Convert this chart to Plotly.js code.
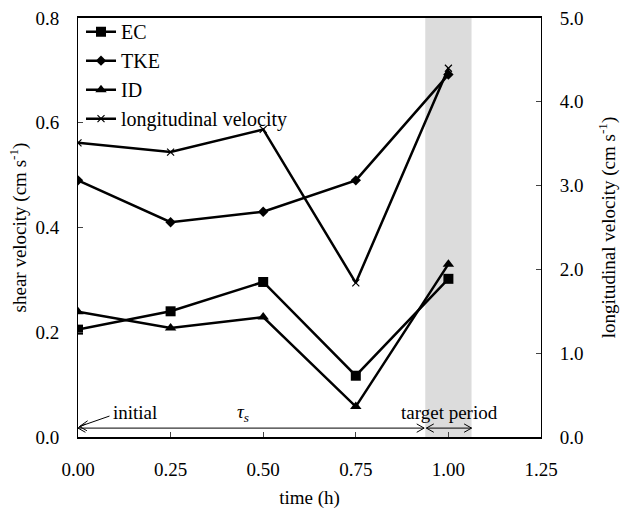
<!DOCTYPE html>
<html>
<head>
<meta charset="utf-8">
<script src="https://cdn.plot.ly/plotly-3.0.1.min.js"></script>
</head>
<body style="margin:0">
<div id="chart" style="width:630px;height:510px"></div>
<script>
var time = [0, 0.25, 0.5, 0.75, 1.0];
var ecValues = [0.205, 0.240, 0.296, 0.117, 0.302];
var tkeValues = [0.490, 0.410, 0.430, 0.490, 0.692];
var idValues = [0.239, 0.208, 0.229, 0.058, 0.330];
var longitudinalValues = [3.51, 3.40, 3.67, 1.84, 4.40];
var seriesNames = ["EC", "TKE", "ID", "longitudinal velocity"];
var xTicks = [0, 0.25, 0.5, 0.75, 1.0, 1.25];
var xTickLabels = ["0.00", "0.25", "0.50", "0.75", "1.00", "1.25"];
var targetStart = 0.9375, targetEnd = 1.0625;

var serifFamily = "Liberation Serif";
var fs = 19;
var lineStyle = {color: "#000", width: 2.5};

var traces = [
  {x: time, y: ecValues, name: seriesNames[0], mode: "lines+markers", line: lineStyle,
   marker: {symbol: "square", size: 10, color: "#000"}},
  {x: time, y: tkeValues, name: seriesNames[1], mode: "lines+markers", line: lineStyle,
   marker: {symbol: "diamond", size: 8, color: "#000"}},
  {x: time, y: idValues, name: seriesNames[2], mode: "lines+markers", line: lineStyle,
   marker: {symbol: "triangle-up", size: 10, color: "#000"}},
  {x: time, y: longitudinalValues, name: seriesNames[3], mode: "lines+markers", line: lineStyle, yaxis: "y2",
   marker: {symbol: "x-thin-open", size: 7, line: {color: "#000", width: 1.2}, color: "#000"}}
];

var arrowY = 0.017;
var hx = 0.02, hy = 0.008;
function vHead(x, y, dir) {
  var bx = x - dir * hx;
  return {type: "path", xref: "x", yref: "y",
    path: "M" + bx + "," + (y + hy) + " L" + x + "," + y + " L" + bx + "," + (y - hy),
    line: {color: "#000", width: 1}};
}

var shapes = [
  {type: "rect", xref: "x", yref: "paper", x0: targetStart, x1: targetEnd, y0: 0, y1: 1,
   fillcolor: "#dcdcdc", line: {width: 0}, layer: "below"},
  {type: "line", xref: "x", yref: "y", x0: 0, x1: targetStart - 0.003, y0: arrowY, y1: arrowY, line: {color: "#000", width: 1}},
  vHead(0, arrowY, -1), vHead(targetStart - 0.003, arrowY, 1),
  {type: "line", xref: "x", yref: "y", x0: targetStart + 0.003, x1: targetEnd, y0: arrowY, y1: arrowY, line: {color: "#000", width: 1}},
  vHead(targetStart + 0.003, arrowY, -1), vHead(targetEnd, arrowY, 1),
  {type: "line", xref: "x", yref: "y", x0: 0.085, x1: 0.004, y0: 0.040, y1: 0.020, line: {color: "#000", width: 1}},
  {type: "path", xref: "x", yref: "y", path: "M0.026,0.031 L0.004,0.020 L0.024,0.012", line: {color: "#000", width: 1}}
];

var annotations = [
  {x: 0.09, y: 0.046, xref: "x", yref: "y", text: "initial", showarrow: false, xanchor: "left",
   font: {family: serifFamily, size: fs}},
  {x: 0.445, y: 0.046, xref: "x", yref: "y", text: "<i>τ<sub>s</sub></i>", showarrow: false,
   font: {family: serifFamily, size: fs}},
  {x: 1.003, y: 0.046, xref: "x", yref: "y", text: "target period", showarrow: false,
   font: {family: serifFamily, size: fs}}
];

var layout = {
  width: 630, height: 510,
  margin: {l: 78, r: 89, t: 18, b: 73},
  paper_bgcolor: "#fff", plot_bgcolor: "#fff",
  font: {family: serifFamily, size: fs, color: "#000"},
  showlegend: true,
  legend: {x: 0.0065, y: 1.014, xanchor: "left", yanchor: "top", bgcolor: "rgba(0,0,0,0)",
    font: {family: serifFamily, size: 20}, tracegroupgap: 0},
  xaxis: {range: [0, 1.25], tickvals: xTicks, ticktext: xTickLabels, ticks: "inside", ticklen: 5,
    ticklabelstandoff: 14,
    showline: true, linecolor: "#000", linewidth: 1.5, mirror: true, showgrid: false, zeroline: false,
    title: {text: "time (h)", font: {family: serifFamily, size: fs}, standoff: 12},
    tickfont: {family: serifFamily, size: fs}},
  yaxis: {range: [0, 0.8], dtick: 0.2, tickformat: ".1f", ticks: "inside", ticklen: 5,
    ticklabelstandoff: 14,
    showline: true, linecolor: "#000", linewidth: 1, showgrid: false, zeroline: false,
    title: {text: "shear velocity (cm s<sup>-1</sup>)", font: {family: serifFamily, size: fs}, standoff: 3},
    tickfont: {family: serifFamily, size: fs}},
  yaxis2: {range: [0, 5], dtick: 1, tickformat: ".1f", ticks: "inside", ticklen: 5, overlaying: "y", side: "right",
    ticklabelstandoff: 14,
    showline: true, linecolor: "#000", linewidth: 1, showgrid: false, zeroline: false,
    title: {text: "longitudinal velocity (cm s<sup>-1</sup>)", font: {family: serifFamily, size: fs}, standoff: 19},
    tickfont: {family: serifFamily, size: fs}},
  shapes: shapes,
  annotations: annotations
};

Plotly.newPlot("chart", traces, layout, {displayModeBar: false});
</script>
</body>
</html>
